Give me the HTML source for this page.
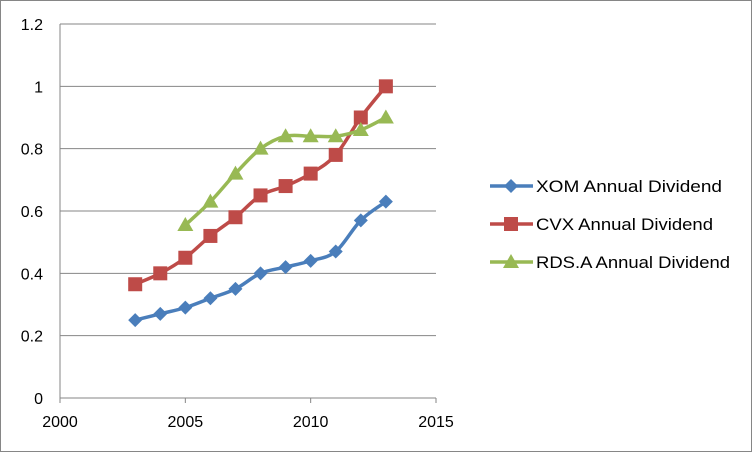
<!DOCTYPE html>
<html><head><meta charset="utf-8"><style>
html,body{margin:0;padding:0;background:#fff;}
svg{display:block;font-family:"Liberation Sans",sans-serif;}
</style></head><body>
<svg id="chart" width="752" height="452" viewBox="0 0 752 452">
<rect x="0.5" y="0.5" width="751" height="451" fill="#fff" stroke="#868686"/>
<g id="grid"></g><g id="axes"></g><g id="series"></g><g id="legend"></g>
</svg>
<script>
const years=[2003,2004,2005,2006,2007,2008,2009,2010,2011,2012,2013];
const xom=[0.25,0.27,0.29,0.32,0.35,0.40,0.42,0.44,0.47,0.57,0.63];
const cvx=[0.365,0.40,0.45,0.52,0.58,0.65,0.68,0.72,0.78,0.90,1.00];
const rdsYears=[2005,2006,2007,2008,2009,2010,2011,2012,2013];
const rds=[0.555,0.63,0.72,0.80,0.84,0.84,0.84,0.86,0.90];
const xTicks=[2000,2005,2010,2015];
const yTicks=[0,0.2,0.4,0.6,0.8,1,1.2];
const seriesNames=["XOM Annual Dividend","CVX Annual Dividend","RDS.A Annual Dividend"];
const NS="http://www.w3.org/2000/svg";
const X0=60,X1=436,Y0=398,Y1=24;
const xs=v=>X0+(v-2000)/15*(X1-X0);
const ys=v=>Y0-v/1.2*(Y0-Y1);
function mk(t,a,p){const e=document.createElementNS(NS,t);for(const k in a)e.setAttribute(k,a[k]);p.appendChild(e);return e;}
const grid=document.getElementById('grid'),axes=document.getElementById('axes');
yTicks.forEach(v=>{
 const l=mk('line',{x1:X0,x2:X1,y1:ys(v),y2:ys(v),stroke:'#868686','stroke-width':1},grid);
 
 
 const t=mk('text',{x:X0-17,y:ys(v)+6,'text-anchor':'end','font-size':16,fill:'#000'},axes);
 t.textContent=String(v);
 
 
});
const ya=mk('line',{x1:X0,x2:X0,y1:Y1,y2:Y0,stroke:'#868686'},axes);


xTicks.forEach(v=>{
 const tk=mk('line',{x1:xs(v),x2:xs(v),y1:Y0,y2:Y0+5,stroke:'#868686'},axes);
 
 
 const t=mk('text',{x:xs(v),y:Y0+29,'text-anchor':'middle','font-size':16,fill:'#000'},axes);
 t.textContent=String(v);
 
 
});
function smooth(pts){
 let d=`M${pts[0][0]},${pts[0][1]}`;
 for(let i=0;i<pts.length-1;i++){
  const p0=pts[i-1]||pts[i],p1=pts[i],p2=pts[i+1],p3=pts[i+2]||p2,k=6;
  d+=` C${p1[0]+(p2[0]-p0[0])/k},${p1[1]+(p2[1]-p0[1])/k} ${p2[0]-(p3[0]-p1[0])/k},${p2[1]-(p3[1]-p1[1])/k} ${p2[0]},${p2[1]}`;
 }
 return d;
}
function marker(type,x,y,fill,p){
 if(type==='d')return mk('polygon',{points:`${x},${y-7} ${x+7},${y} ${x},${y+7} ${x-7},${y}`,fill},p);
 if(type==='s')return mk('rect',{x:x-7,y:y-7,width:14,height:14,fill},p);
 return mk('polygon',{points:`${x},${y-8} ${x+8},${y+6} ${x-8},${y+6}`,fill},p);
}
const sg=document.getElementById('series');
const defs=[[years,xom,'#4a7ebb','d','xom'],[years,cvx,'#be4b48','s','cvx'],[rdsYears,rds,'#98b954','t','rds']];
const legendWidths=[186,177,194];
defs.forEach(([xv,yv,c,m,n])=>{
 const g=mk('g',{},sg);
 
 
 const pts=xv.map((x,i)=>[xs(x),ys(yv[i])]);
 const p=mk('path',{d:smooth(pts),fill:'none',stroke:c,'stroke-width':3.5},g);
 
 
 pts.forEach(q=>{const e=marker(m,q[0],q[1],c,g);
  
  });
});
const lg=document.getElementById('legend');
defs.forEach(([,,c,m,n],i)=>{
 const y=186+i*38;
 const g=mk('g',{},lg);
 
 
 mk('line',{x1:490,x2:533,y1:y,y2:y,stroke:c,'stroke-width':3.5},g);
 marker(m,511,y,c,g);
 const t=mk('text',{x:536,y:y+6,'font-size':17,fill:'#000',textLength:legendWidths[i],lengthAdjust:'spacingAndGlyphs'},g);
 t.textContent=seriesNames[i];
});
</script>
</body></html>
